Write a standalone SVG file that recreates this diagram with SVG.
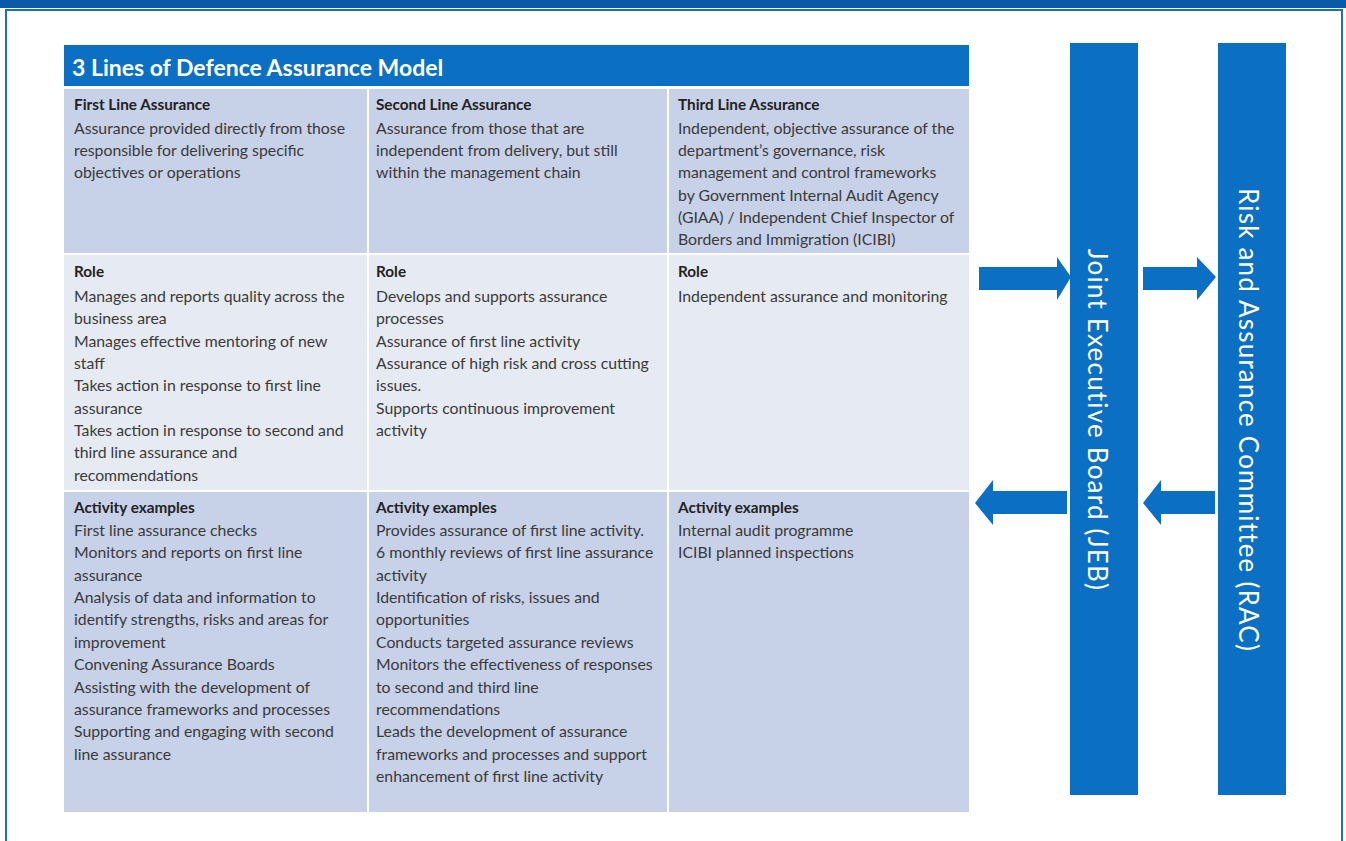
<svg xmlns="http://www.w3.org/2000/svg" width="1346" height="841" viewBox="0 0 1346 841">
  <style>
    .cell-dark { fill: #c7d1e8; }
    .cell-light { fill: #e6eaf3; }
    .blue { fill: #0b6fc4; }
    .hd { font-family: Lato, "Liberation Sans", sans-serif; font-size: 15.3px; font-weight: bold; fill: #222; }
    .tx { font-family: Lato, "Liberation Sans", sans-serif; font-size: 15.8px; fill: #3a3a3a; }
    .title { font-family: Lato, "Liberation Sans", sans-serif; font-size: 23px; font-weight: bold; fill: #ffffff; }
    .vlabel { font-family: Lato, "Liberation Sans", sans-serif; font-size: 26px; letter-spacing: 1.2px; fill: #ffffff; text-anchor: middle; }
  </style>

  <!-- page frame -->
  <rect x="0" y="0" width="1346" height="841" fill="#ffffff"/>
  <rect x="0" y="0" width="1346" height="8" fill="#0a5aa8"/>
  <path d="M6,841 V10 H1342 V841" fill="none" stroke="#1b6fc2" stroke-width="2"/>

  <!-- title bar -->
  <g id="title">
    <rect x="64" y="45" width="905" height="41" class="blue"/>
    <text x="72" y="76" class="title">3 Lines of Defence Assurance Model</text>
  </g>

  <!-- row 1: line descriptions -->
  <g id="first-line">
    <rect x="64" y="89" width="303" height="164" class="cell-dark"/>
    <text class="hd" x="74" y="110">First Line Assurance</text>
    <text class="tx" x="74"><tspan x="74" y="134">Assurance provided directly from those</tspan><tspan x="74" y="156">responsible for delivering specific</tspan><tspan x="74" y="178">objectives or operations</tspan></text>
  </g>
  <g id="second-line">
    <rect x="369" y="89" width="298" height="164" class="cell-dark"/>
    <text class="hd" x="376" y="110">Second Line Assurance</text>
    <text class="tx"><tspan x="376" y="134">Assurance from those that are</tspan><tspan x="376" y="156">independent from delivery, but still</tspan><tspan x="376" y="178">within the management chain</tspan></text>
  </g>
  <g id="third-line">
    <rect x="669" y="89" width="300" height="164" class="cell-dark"/>
    <text class="hd" x="678" y="110">Third Line Assurance</text>
    <text class="tx"><tspan x="678" y="134">Independent, objective assurance of the</tspan><tspan x="678" y="156">department’s governance, risk</tspan><tspan x="678" y="178">management and control frameworks</tspan><tspan x="678" y="201">by Government Internal Audit Agency</tspan><tspan x="678" y="223">(GIAA) / Independent Chief Inspector of</tspan><tspan x="678" y="245">Borders and Immigration (ICIBI)</tspan></text>
  </g>

  <!-- row 2: roles -->
  <g id="first-role">
    <rect x="64" y="255" width="303" height="235" class="cell-light"/>
    <text class="hd" x="74" y="277">Role</text>
    <text class="tx"><tspan x="74" y="302">Manages and reports quality across the</tspan><tspan x="74" y="324">business area</tspan><tspan x="74" y="347">Manages effective mentoring of new</tspan><tspan x="74" y="369">staff</tspan><tspan x="74" y="391">Takes action in response to first line</tspan><tspan x="74" y="414">assurance</tspan><tspan x="74" y="436">Takes action in response to second and</tspan><tspan x="74" y="458">third line assurance and</tspan><tspan x="74" y="481">recommendations</tspan></text>
  </g>
  <g id="second-role">
    <rect x="369" y="255" width="298" height="235" class="cell-light"/>
    <text class="hd" x="376" y="277">Role</text>
    <text class="tx"><tspan x="376" y="302">Develops and supports assurance</tspan><tspan x="376" y="324">processes</tspan><tspan x="376" y="347">Assurance of first line activity</tspan><tspan x="376" y="369">Assurance of high risk and cross cutting</tspan><tspan x="376" y="391">issues.</tspan><tspan x="376" y="414">Supports continuous improvement</tspan><tspan x="376" y="436">activity</tspan></text>
  </g>
  <g id="third-role">
    <rect x="669" y="255" width="300" height="235" class="cell-light"/>
    <text class="hd" x="678" y="277">Role</text>
    <text class="tx" x="678" y="302">Independent assurance and monitoring</text>
  </g>

  <!-- row 3: activity examples -->
  <g id="first-activity">
    <rect x="64" y="492" width="303" height="320" class="cell-dark"/>
    <text class="hd" x="74" y="513">Activity examples</text>
    <text class="tx"><tspan x="74" y="536">First line assurance checks</tspan><tspan x="74" y="558">Monitors and reports on first line</tspan><tspan x="74" y="581">assurance</tspan><tspan x="74" y="603">Analysis of data and information to</tspan><tspan x="74" y="625">identify strengths, risks and areas for</tspan><tspan x="74" y="648">improvement</tspan><tspan x="74" y="670">Convening Assurance Boards</tspan><tspan x="74" y="693">Assisting with the development of</tspan><tspan x="74" y="715">assurance frameworks and processes</tspan><tspan x="74" y="737">Supporting and engaging with second</tspan><tspan x="74" y="760">line assurance</tspan></text>
  </g>
  <g id="second-activity">
    <rect x="369" y="492" width="298" height="320" class="cell-dark"/>
    <text class="hd" x="376" y="513">Activity examples</text>
    <text class="tx"><tspan x="376" y="536">Provides assurance of first line activity.</tspan><tspan x="376" y="558">6 monthly reviews of first line assurance</tspan><tspan x="376" y="581">activity</tspan><tspan x="376" y="603">Identification of risks, issues and</tspan><tspan x="376" y="625">opportunities</tspan><tspan x="376" y="648">Conducts targeted assurance reviews</tspan><tspan x="376" y="670">Monitors the effectiveness of responses</tspan><tspan x="376" y="693">to second and third line</tspan><tspan x="376" y="715">recommendations</tspan><tspan x="376" y="737">Leads the development of assurance</tspan><tspan x="376" y="760">frameworks and processes and support</tspan><tspan x="376" y="782">enhancement of first line activity</tspan></text>
  </g>
  <g id="third-activity">
    <rect x="669" y="492" width="300" height="320" class="cell-dark"/>
    <text class="hd" x="678" y="513">Activity examples</text>
    <text class="tx"><tspan x="678" y="536">Internal audit programme</tspan><tspan x="678" y="558">ICIBI planned inspections</tspan></text>
  </g>

  <!-- oversight bodies -->
  <g id="jeb">
    <rect x="1070" y="43" width="68" height="752" class="blue"/>
    <text class="vlabel" transform="translate(1088,420) rotate(90)">Joint Executive Board (JEB)</text>
  </g>
  <g id="rac">
    <rect x="1218" y="43" width="68" height="752" class="blue"/>
    <text class="vlabel" transform="translate(1239,420) rotate(90)">Risk and Assurance Committee (RAC)</text>
  </g>

  <!-- block arrows between model, JEB and RAC -->
  <g id="connectors" class="blue">
    <polygon points="979,267 1057,267 1057,257 1071,277 1057,300 1057,290 979,290"/>
    <polygon points="1143,267 1197,267 1197,257 1216,277 1197,300 1197,290 1143,290"/>
    <polygon points="1067,491 993,491 993,480 975,503 993,525 993,514 1067,514"/>
    <polygon points="1215,491 1161,491 1161,480 1143,503 1161,525 1161,514 1215,514"/>
  </g>
</svg>
